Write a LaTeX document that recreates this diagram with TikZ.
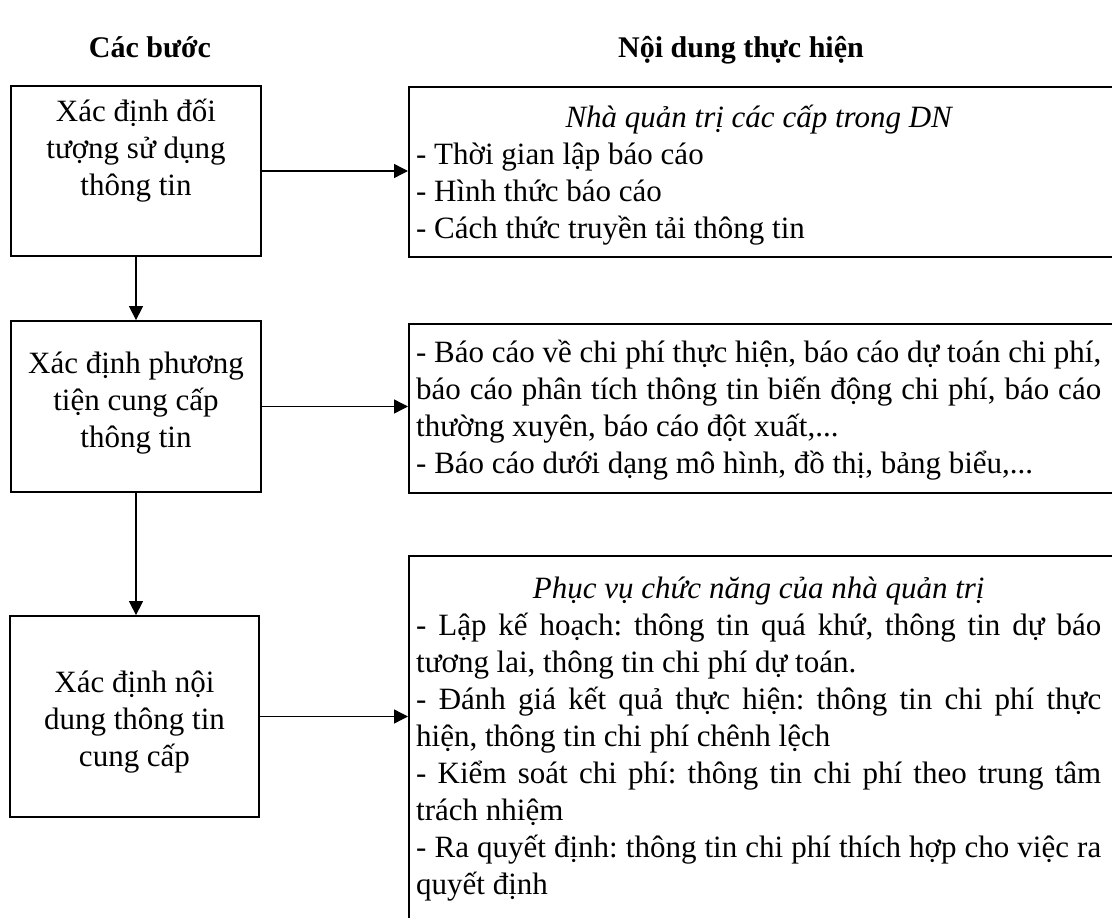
\documentclass[tikz,border=0pt]{standalone}
\usepackage{fontspec}
\setmainfont{Liberation Serif}
\usetikzlibrary{arrows.meta, positioning}
\frenchspacing

\begin{document}
\begin{tikzpicture}[x=1pt, y=-1pt]
\tikzstyle{stepbox} = [rectangle, draw=black, line width=1.8pt, minimum width=250pt, inner sep=0pt]
\tikzstyle{steptext} = [align=center, inner sep=0pt, font=\fontsize{31}{37}\selectfont]
\tikzstyle{infobox} = [rectangle, draw=black, line width=1.8pt, minimum width=720pt, anchor=north west, inner sep=0pt]
\tikzstyle{infotext} = [anchor=west, text width=685pt, align=justify, inner sep=0pt, font=\fontsize{31}{37}\selectfont]
\tikzstyle{header} = [anchor=base, font=\fontsize{30}{36}\selectfont\bfseries]
\tikzstyle{arrow} = [line width=1.4pt, -{Triangle[length=14pt, width=14pt]}]

\useasboundingbox (0,0) rectangle (1112,918);
\fill[white] (0,0) rectangle (1112,918);
\clip (0,0) rectangle (1112,918);

\node[header] (steps) at (150,57) {Các bước};
\node[header] (content) at (741,57) {Nội dung thực hiện};

\node[stepbox, minimum height=170pt] (step1) at (136,171) {};
\node[stepbox, minimum height=171pt] (step2) at (136,406.5) {};
\node[stepbox, minimum width=249pt, minimum height=201pt] (step3) at (134.5,716.5) {};
\node[steptext] (steptext1) at (136,151) {Xác định đối\\tượng sử dụng\\thông tin};
\node[steptext] (steptext2) at (136,403) {Xác định phương\\tiện cung cấp\\thông tin};
\node[steptext] (steptext3) at (134.5,722) {Xác định nội\\dung thông tin\\cung cấp};

\node[infobox, minimum height=170pt] (info1) at (408,86) {};
\node[infobox, minimum height=169pt] (info2) at (408,323) {};
\node[infobox, minimum height=380pt] (info3) at (408,555) {};

\node[infotext] (infotext1) at (416,175) {\centerline{\itshape Nhà quản trị các cấp trong DN}
- Thời gian lập báo cáo\par
- Hình thức báo cáo\par
- Cách thức truyền tải thông tin};
\node[infotext] (infotext2) at (416,410) {- Báo cáo về chi phí thực hiện, báo cáo dự toán chi phí, \linebreak báo cáo phân tích thông tin biến động chi phí, báo cáo \linebreak thường xuyên, báo cáo đột xuất,...\par
- Báo cáo dưới dạng mô hình, đồ thị, bảng biểu,...};
\node[infotext] (infotext3) at (416,739) {\centerline{\itshape Phục vụ chức năng của nhà quản trị}
- Lập kế hoạch: thông tin quá khứ, thông tin dự báo \linebreak tương lai, thông tin chi phí dự toán.\par
- Đánh giá kết quả thực hiện: thông tin chi phí thực \linebreak hiện, thông tin chi phí chênh lệch\par
- Kiểm soát chi phí: thông tin chi phí theo trung tâm \linebreak trách nhiệm\par
- Ra quyết định: thông tin chi phí thích hợp cho việc ra \linebreak quyết định};

\draw[arrow] (step1.east) -- (step1.east -| info1.west);
\draw[arrow] (step2.east) -- (step2.east -| info2.west);
\draw[arrow] (step3.east) -- (step3.east -| info3.west);
\draw[arrow] (step1.south) -- (step1.south |- step2.north);
\draw[arrow] (step2.south) -- (step2.south |- step3.north);
\end{tikzpicture}
\end{document}
